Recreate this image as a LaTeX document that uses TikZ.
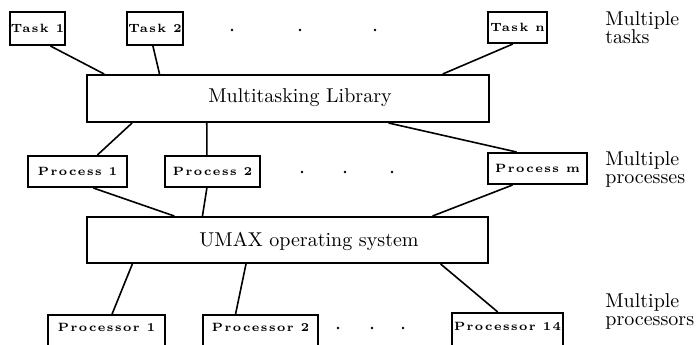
\documentclass[tikz,border=0pt]{standalone}
\usepackage{fontspec}
\newfontfamily\lblfont[LetterSpace=12]{Latin Modern Roman}
\usetikzlibrary{calc}

\tikzset{
  box/.style={draw, line width=1pt, inner sep=0pt, anchor=center,
              font=\lblfont\fontsize{6}{7}\selectfont\bfseries},
  % processor boxes run off the lower edge; keep their text near the top
  openbox/.style={box, text height=4pt, text depth=7.5pt},
  layer/.style={draw, line width=1pt, inner sep=0pt, anchor=center},
  layertext/.style={font=\fontsize{10}{12}\selectfont, inner sep=0pt},
  side/.style={anchor=west, align=left, inner sep=0pt,
               font=\fontsize{10}{9}\selectfont},
  link/.style={line width=0.8pt},
  ellip/.style={circle, fill, inner sep=0pt, minimum size=1.4pt}
}

\begin{document}
\begin{tikzpicture}[x=0.5pt, y=-0.5pt]
  \useasboundingbox (0,0) rectangle (698,344);

  % tasks
  \node[box, minimum width=27.5pt, minimum height=16.5pt] (t1) at (37.5,28.5) {Task 1};
  \node[box, minimum width=28pt,   minimum height=16.5pt] (t2) at (155,28.5) {Task 2};
  \node[box, minimum width=29.5pt, minimum height=15.5pt] (tn) at (517.5,27.5) {Task n};
  \node[ellip] (d1) at (232,30) {};
  \node[ellip] (d2) at (300,30) {};
  \node[ellip] (d3) at (375,30) {};

  % multitasking library layer
  \node[layer, minimum width=201pt, minimum height=23.5pt] (lib) at (288,98.5) {};
  \node[layertext] (libtext) at (300,98) {Multitasking Library};

  % processes
  \node[box, minimum width=49.5pt, minimum height=15.5pt] (p1) at (77.5,171.5) {Process 1};
  \node[box, minimum width=47.5pt, minimum height=15.5pt] (p2) at (212.5,171.5) {Process 2};
  \node[box, minimum width=49.5pt, minimum height=15.5pt] (pm) at (537.5,168.5) {Process m};
  \node[ellip] (e1) at (302,172) {};
  \node[ellip] (e2) at (345,172) {};
  \node[ellip] (e3) at (392,172) {};

  % operating system layer
  \node[layer, minimum width=200.5pt, minimum height=23pt] (os) at (287.5,240) {};
  \node[layertext] (ostext) at (309,241) {UMAX operating system};

  % processors
  \node[openbox, minimum width=58.5pt, minimum height=20pt] (c1) at (106.5,335) {Processor 1};
  \node[openbox, minimum width=57.5pt, minimum height=20pt] (c2) at (260.5,335) {Processor 2};
  \node[openbox, minimum width=55.5pt, minimum height=21pt] (c14) at (507.5,334) {Processor 14};
  \node[ellip] (f1) at (338,328) {};
  \node[ellip] (f2) at (372,328) {};
  \node[ellip] (f3) at (403,328) {};

  % side labels
  \node[side] (ltasks) at (605,27.5) {Multiple\\tasks};
  \node[side] (lproc) at (605,169) {Multiple\\processes};
  \node[side] (lcpu) at (605,311.5) {Multiple\\processors};

  % tasks to library
  \draw[link] ($(t1.south west)!0.727!(t1.south east)$) -- ($(lib.north west)!0.045!(lib.north east)$);
  \draw[link] ($(t2.south west)!0.464!(t2.south east)$) -- ($(lib.north west)!0.182!(lib.north east)$);
  \draw[link] ($(tn.south west)!0.424!(tn.south east)$) -- ($(lib.north west)!0.883!(lib.north east)$);

  % library to processes
  \draw[link] ($(lib.south west)!0.114!(lib.south east)$) -- ($(p1.north west)!0.697!(p1.north east)$);
  \draw[link] ($(lib.south west)!0.299!(lib.south east)$) -- ($(p2.north west)!0.442!(p2.north east)$);
  \draw[link] ($(lib.south west)!0.749!(lib.south east)$) -- ($(pm.north west)!0.293!(pm.north east)$);

  % processes to operating system
  \draw[link] ($(p1.south west)!0.657!(p1.south east)$) -- ($(os.north west)!0.219!(os.north east)$);
  \draw[link] ($(p2.south west)!0.442!(p2.south east)$) -- ($(os.north west)!0.289!(os.north east)$);
  \draw[link] ($(pm.south west)!0.253!(pm.south east)$) -- ($(os.north west)!0.860!(os.north east)$);

  % operating system to processors
  \draw[link] ($(os.south west)!0.115!(os.south east)$) -- ($(c1.north west)!0.547!(c1.north east)$);
  \draw[link] ($(os.south west)!0.397!(os.south east)$) -- ($(c2.north west)!0.287!(c2.north east)$);
  \draw[link] ($(os.south west)!0.880!(os.south east)$) -- ($(c14.north west)!0.414!(c14.north east)$);
\end{tikzpicture}
\end{document}
